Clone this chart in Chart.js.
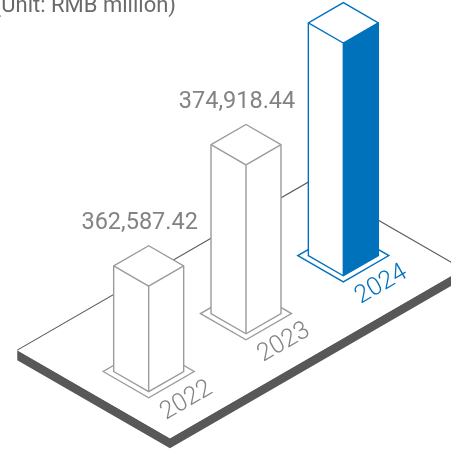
<!DOCTYPE html>
<html>
<head>
<meta charset="utf-8">
<script src="https://cdn.jsdelivr.net/npm/chart.js@4/dist/chart.umd.min.js"></script>
<style>
  html, body { margin: 0; padding: 0; background: #ffffff; }
  #wrap { width: 451px; height: 454px; position: relative; overflow: hidden; }
</style>
</head>
<body>
<div id="wrap"><canvas id="c" width="451" height="454"></canvas></div>
<script>
// Yearly totals, RMB million
const years = ['2022', '2023', '2024'];
const totals = [362587.42, 374918.44, 387380.00];
const highlightYear = '2024';
const unitText = '(Unit: RMB million)';

const GREY_LINE = '#9b9b9b';
const GREY_TEXT = '#838383';
const BLUE = '#0072bc';
const SLAB = '#585858';

function fmt(v) {
  return v.toLocaleString('en-US', { minimumFractionDigits: 2, maximumFractionDigits: 2 });
}

function poly(ctx, pts) {
  ctx.beginPath();
  ctx.moveTo(pts[0][0], pts[0][1]);
  for (let i = 1; i < pts.length; i++) ctx.lineTo(pts[i][0], pts[i][1]);
  ctx.closePath();
}

// Draws each bar as an isometric prism standing on a tilted platform.
const isoBars = {
  id: 'isoBars',
  afterDatasetsDraw(chart) {
    const ctx = chart.ctx;
    const meta = chart.getDatasetMeta(0);
    const yScale = chart.scales.y;
    const ca = chart.chartArea;
    const T = Math.tan(Math.PI / 6);
    const hw = 35, hh = hw * T;          // half footprint of a prism
    const pw = 45.5, ph = pw * T;        // half footprint of the base plate
    const x0 = meta.data[0].x;
    const g0 = ca.bottom - 28.3;
    const groundY = x => g0 - 0.5955 * (x - x0);
    const floorPx = yScale.getPixelForValue(yScale.min);

    ctx.save();

    // platform
    const F = [x0 + 21.3, g0 + 46.6];
    const L = [F[0] - 152.7, F[1] - 152.7 * T];
    const R = [F[0] + 293, F[1] - 293 * T];
    const B = [L[0] + 293, L[1] - 293 * T];
    const th = 10;
    ctx.fillStyle = SLAB;
    poly(ctx, [L, F, R, [R[0], R[1] + th], [F[0], F[1] + th], [L[0], L[1] + th]]);
    ctx.fill();
    ctx.fillStyle = '#ffffff';
    poly(ctx, [L, F, R, B]);
    ctx.fill();
    ctx.strokeStyle = SLAB;
    ctx.lineWidth = 1.1;
    ctx.beginPath();
    ctx.moveTo(L[0], L[1]); ctx.lineTo(B[0], B[1]); ctx.lineTo(R[0], R[1]);
    ctx.stroke();

    meta.data.forEach((bar, i) => {
      const hot = years[i] === highlightYear;
      const line = hot ? BLUE : GREY_LINE;
      const x = bar.x;
      const yb = groundY(x);
      const h = floorPx - yScale.getPixelForValue(totals[i]);
      ctx.lineJoin = 'miter';
      ctx.lineWidth = 1.4;
      ctx.strokeStyle = line;

      // base plate
      const cy = yb - hh;
      poly(ctx, [[x - pw, cy], [x, cy + ph], [x + pw, cy], [x, cy - ph]]);
      ctx.fillStyle = '#ffffff';
      ctx.fill();
      ctx.stroke();

      // prism
      const Fb = [x, yb], Lb = [x - hw, yb - hh], Rb = [x + hw, yb - hh];
      const Ft = [x, yb - h], Lt = [x - hw, yb - hh - h], Rt = [x + hw, yb - hh - h];
      const Bt = [x, yb - 2 * hh - h];
      poly(ctx, [Lb, Fb, Rb, Rt, Bt, Lt]);
      ctx.fillStyle = '#ffffff';
      ctx.fill();
      if (hot) {
        poly(ctx, [Fb, Rb, Rt, Ft]);
        ctx.fillStyle = BLUE;
        ctx.fill();
      }
      poly(ctx, [Lb, Fb, Rb, Rt, Bt, Lt]);
      ctx.stroke();
      ctx.beginPath();
      ctx.moveTo(Fb[0], Fb[1]); ctx.lineTo(Ft[0], Ft[1]);
      ctx.moveTo(Lt[0], Lt[1]); ctx.lineTo(Ft[0], Ft[1]); ctx.lineTo(Rt[0], Rt[1]);
      ctx.stroke();

      // year label along the platform edge
      ctx.save();
      ctx.translate(x + 38, yb + 9);
      ctx.rotate(-Math.PI / 6);
      ctx.font = '300 25px Roboto, "Open Sans", sans-serif';
      ctx.fillStyle = hot ? BLUE : GREY_TEXT;
      ctx.textAlign = 'center';
      ctx.textBaseline = 'middle';
      ctx.fillText(years[i], 0, 0);
      ctx.restore();

      // value label above the prism
      ctx.font = '23.5px Roboto, sans-serif';
      ctx.fillStyle = GREY_TEXT;
      ctx.textAlign = 'center';
      ctx.textBaseline = 'alphabetic';
      ctx.fillText(fmt(totals[i]), x - 9, Bt[1] - 17);
    });

    // unit note
    ctx.font = '22px Roboto, sans-serif';
    ctx.fillStyle = '#6a6a6a';
    ctx.textAlign = 'right';
    ctx.textBaseline = 'alphabetic';
    ctx.fillText(unitText, 176, 12);

    ctx.restore();
  }
};

new Chart(document.getElementById('c'), {
  type: 'bar',
  data: {
    labels: years,
    datasets: [{
      data: totals,
      backgroundColor: 'rgba(0,0,0,0)',
      borderWidth: 0
    }]
  },
  options: {
    responsive: false,
    animation: false,
    devicePixelRatio: 1,
    events: [],
    layout: { padding: { left: 100, right: 59, top: 20, bottom: 34 } },
    plugins: { legend: { display: false }, tooltip: { enabled: false } },
    scales: {
      x: { display: false, offset: true },
      y: { display: false, min: 342000, max: 420000 }
    }
  },
  plugins: [isoBars]
});
</script>
</body>
</html>
